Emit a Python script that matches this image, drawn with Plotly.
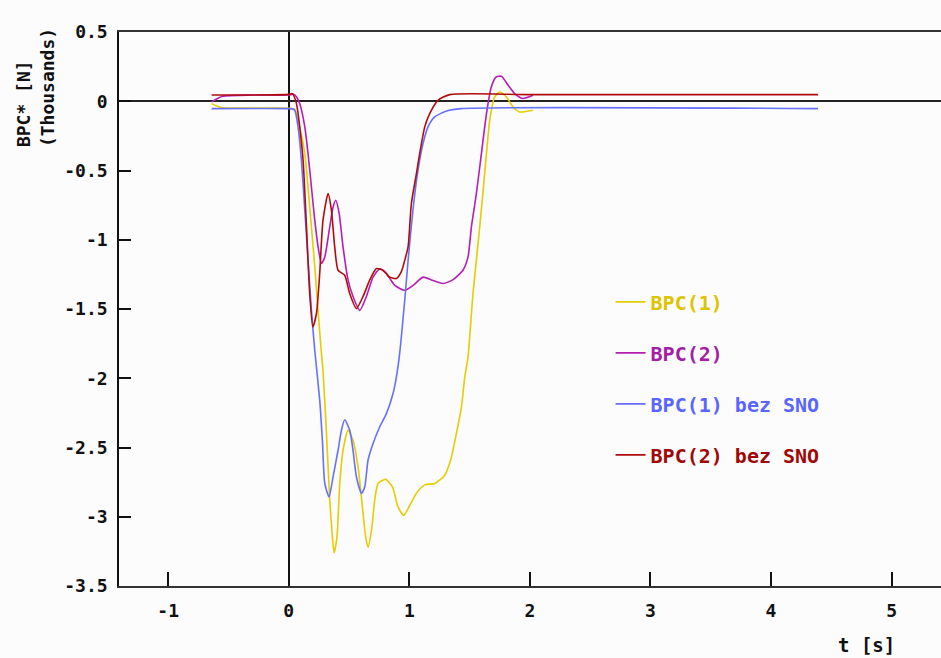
import plotly.graph_objects as go

# Time axis [s] and force values [thousands of N] for each series
t_bpc1 = [-0.64, -0.56, 0.0, 0.05, 0.091, 0.133, 0.16, 0.188, 0.216, 0.243,
          0.271, 0.284, 0.313, 0.34, 0.362, 0.376, 0.40, 0.423, 0.45, 0.492,
          0.533, 0.575, 0.611, 0.638, 0.658, 0.686, 0.713, 0.741, 0.804, 0.86,
          0.907, 0.954, 1.003, 1.059, 1.128, 1.21, 1.294, 1.349, 1.39, 1.432,
          1.46, 1.487, 1.528, 1.57, 1.61, 1.64, 1.667, 1.708, 1.75, 1.805,
          1.86, 1.915, 2.026]
v_bpc1 = [-0.017, -0.045, -0.05, -0.06, -0.185, -0.378, -0.62, -0.907, -1.196, -1.51,
          -1.82, -1.94, -2.40, -2.88, -3.146, -3.26, -3.146, -2.76, -2.52, -2.375,
          -2.45, -2.64, -2.93, -3.146, -3.22, -3.10, -2.88, -2.76, -2.73, -2.785,
          -2.93, -2.99, -2.92, -2.83, -2.77, -2.76, -2.70, -2.57, -2.40, -2.21,
          -1.99, -1.846, -1.39, -1.03, -0.667, -0.378, -0.137, 0.031, 0.067, 0.031,
          -0.041, -0.077, -0.065]

t_bpc2 = [-0.64, -0.55, -0.3, 0.0, 0.04, 0.065, 0.091, 0.133, 0.16, 0.188,
          0.216, 0.243, 0.271, 0.299, 0.34, 0.368, 0.39, 0.418, 0.45, 0.492,
          0.533, 0.589, 0.644, 0.699, 0.755, 0.81, 0.88, 0.962, 1.03, 1.114,
          1.183, 1.28, 1.36, 1.445, 1.487, 1.515, 1.556, 1.598, 1.64, 1.68,
          1.72, 1.764, 1.82, 1.874, 1.94, 2.026]
v_bpc2 = [-0.005, 0.036, 0.045, 0.045, 0.05, 0.03, -0.017, -0.185, -0.378, -0.619,
          -0.86, -1.05, -1.17, -1.124, -0.907, -0.763, -0.715, -0.81, -1.05, -1.29,
          -1.41, -1.51, -1.41, -1.27, -1.21, -1.244, -1.33, -1.365, -1.33, -1.27,
          -1.29, -1.316, -1.29, -1.22, -1.124, -0.907, -0.667, -0.378, -0.089, 0.103,
          0.175, 0.18, 0.115, 0.055, 0.02, 0.043]

t_bpc1_bez = [-0.64, 0.0, 0.03, 0.05, 0.077, 0.105, 0.133, 0.16, 0.188, 0.216,
              0.257, 0.279, 0.299, 0.334, 0.368, 0.409, 0.437, 0.464, 0.506, 0.533,
              0.561, 0.603, 0.63, 0.658, 0.7, 0.755, 0.81, 0.865, 0.893, 0.92,
              0.962, 0.99, 1.03, 1.072, 1.114, 1.155, 1.21, 1.31, 1.43, 4.39]
v_bpc1_bez = [-0.053, -0.053, -0.055, -0.065, -0.185, -0.426, -0.787, -1.148, -1.51, -1.80,
              -2.16, -2.45, -2.76, -2.857, -2.71, -2.52, -2.375, -2.30, -2.375, -2.52,
              -2.71, -2.83, -2.785, -2.59, -2.47, -2.35, -2.255, -2.11, -1.99, -1.82,
              -1.437, -1.148, -0.787, -0.498, -0.305, -0.185, -0.113, -0.07, -0.053, -0.053]

t_bpc2_bez = [-0.64, -0.3, 0.0, 0.03, 0.064, 0.091, 0.119, 0.147, 0.174, 0.20,
              0.23, 0.257, 0.284, 0.326, 0.354, 0.381, 0.409, 0.464, 0.506, 0.561,
              0.616, 0.672, 0.727, 0.782, 0.837, 0.893, 0.934, 0.962, 0.99, 1.017,
              1.059, 1.086, 1.128, 1.169, 1.238, 1.335, 2.0, 4.39]
v_bpc2_bez = [0.045, 0.045, 0.05, 0.055, -0.017, -0.185, -0.426, -0.907, -1.39, -1.63,
              -1.53, -1.24, -0.86, -0.667, -0.787, -1.05, -1.22, -1.256, -1.39, -1.497,
              -1.41, -1.29, -1.208, -1.22, -1.27, -1.28, -1.23, -1.15, -1.05, -0.739,
              -0.522, -0.378, -0.185, -0.089, 0.007, 0.048, 0.048, 0.048]

series_names = ["BPC(1)", "BPC(2)", "BPC(1) bez SNO", "BPC(2) bez SNO"]
line_colors = ["#e6cc00", "#b41eb4", "#6670ff", "#b00c0c"]
text_colors = ["#dcc400", "#a41ea4", "#5a64ff", "#a00808"]

x_tick_vals = [-1, 0, 1, 2, 3, 4, 5]
x_tick_text = ["-1", "0", "1", "2", "3", "4", "5"]
y_tick_vals = [0.5, 0, -0.5, -1, -1.5, -2, -2.5, -3, -3.5]
y_tick_text = ["0.5", "0", "-0.5", "-1", "-1.5", "-2", "-2.5", "-3", "-3.5"]

FONT = "DejaVu Sans Mono"
BG = "#fcfcfc"

fig = go.Figure()
all_t = [t_bpc1, t_bpc2, t_bpc1_bez, t_bpc2_bez]
all_v = [v_bpc1, v_bpc2, v_bpc1_bez, v_bpc2_bez]
for i, (tt, vv) in enumerate(zip(all_t, all_v)):
    fig.add_trace(go.Scatter(
        x=tt, y=vv, mode="lines",
        name=f"<span style='color:{text_colors[i]}'>{series_names[i]}</span>",
        legendgroup=f"g{i}",
        line=dict(color=line_colors[i], width=1.6, shape="spline", smoothing=0.6),
        hoverinfo="skip",
    ))

tick_font = dict(family=FONT, size=18, color="#111111", weight="bold")

fig.update_layout(
    width=941, height=658,
    margin=dict(l=119, r=0, t=32, b=72),
    paper_bgcolor=BG, plot_bgcolor=BG,
    showlegend=True,
    legend=dict(
        x=0.598, y=0.548, xanchor="left", yanchor="top",
        bgcolor="rgba(0,0,0,0)", borderwidth=0,
        font=dict(family=FONT, size=20, weight="bold"),
        tracegroupgap=22, itemwidth=30,
    ),
    xaxis=dict(
        range=[-1.408, 5.41], tickvals=x_tick_vals, ticktext=x_tick_text,
        ticks="inside", ticklen=14, tickwidth=1.5, tickcolor="#111111",
        showline=True, linecolor="#333333", linewidth=2, mirror=True,
        showgrid=False, zeroline=True, zerolinecolor="#111111", zerolinewidth=1.5,
        tickfont=tick_font, ticklabelstandoff=7,
    ),
    yaxis=dict(
        range=[-3.5, 0.5], tickvals=y_tick_vals, ticktext=y_tick_text,
        ticks="inside", ticklen=12, tickwidth=1.5, tickcolor="#111111",
        showline=True, linecolor="#111111", linewidth=1.5,
        showgrid=False, zeroline=True, zerolinecolor="#222222", zerolinewidth=2,
        tickfont=tick_font, ticklabelstandoff=6,
    ),
    annotations=[
        dict(text="BPC* [N]<br>(Thousands)", textangle=-90, align="left",
             xref="paper", yref="paper", x=-0.102, y=0.899,
             xanchor="center", yanchor="middle", showarrow=False,
             font=dict(family=FONT, size=18, color="#111111", weight="bold")),
        dict(text="t [s]", xref="paper", yref="paper", x=0.909, y=-0.1065,
             xanchor="center", yanchor="middle", showarrow=False,
             font=dict(family=FONT, size=19, color="#111111", weight="bold")),
    ],
)

fig.write_html("out.html")
